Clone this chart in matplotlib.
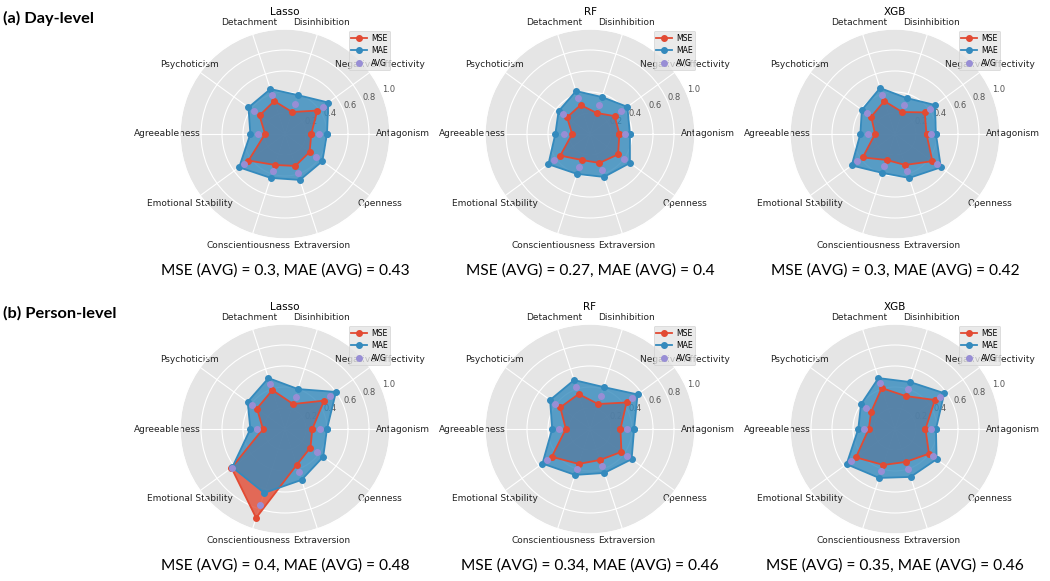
import matplotlib
matplotlib.use("Agg")
import matplotlib.pyplot as plt
import numpy as np

categories = ["Antagonism", "Negative Affectivity", "Disinhibition", "Detachment",
              "Psychoticism", "Agreeableness", "Emotional Stability",
              "Conscientiousness", "Extraversion", "Openness"]
models = ["Lasso", "RF", "XGB"]

# (a) day-level errors per trait
lasso_day_mse = [0.25, 0.38, 0.22, 0.33, 0.30, 0.19, 0.43, 0.31, 0.32, 0.29]
lasso_day_mae = [0.40, 0.51, 0.39, 0.45, 0.43, 0.33, 0.54, 0.44, 0.46, 0.44]
rf_day_mse = [0.28, 0.29, 0.21, 0.29, 0.27, 0.17, 0.35, 0.26, 0.29, 0.33]
rf_day_mae = [0.38, 0.44, 0.37, 0.43, 0.37, 0.33, 0.49, 0.40, 0.43, 0.47]
xgb_day_mse = [0.30, 0.35, 0.22, 0.33, 0.28, 0.19, 0.38, 0.26, 0.31, 0.44]
xgb_day_mae = [0.39, 0.47, 0.36, 0.46, 0.39, 0.33, 0.51, 0.39, 0.44, 0.54]

# (b) person-level errors per trait
lasso_person_mse = [0.26, 0.46, 0.25, 0.39, 0.33, 0.21, 0.63, 0.89, 0.36, 0.30]
lasso_person_mae = [0.40, 0.60, 0.40, 0.51, 0.44, 0.33, 0.62, 0.64, 0.51, 0.45]
rf_person_mse = [0.29, 0.43, 0.25, 0.35, 0.35, 0.23, 0.45, 0.35, 0.31, 0.37]
rf_person_mae = [0.42, 0.56, 0.42, 0.49, 0.47, 0.36, 0.56, 0.46, 0.44, 0.49]
xgb_person_mse = [0.29, 0.47, 0.33, 0.41, 0.28, 0.25, 0.46, 0.36, 0.33, 0.40]
xgb_person_mae = [0.39, 0.58, 0.47, 0.51, 0.40, 0.35, 0.57, 0.49, 0.48, 0.49]

day_mse_avg = [0.3, 0.27, 0.3]
day_mae_avg = [0.43, 0.4, 0.42]
person_mse_avg = [0.4, 0.34, 0.35]
person_mae_avg = [0.48, 0.46, 0.46]

plt.style.use("ggplot")

W, H = 1050, 581
R = 105
col_x = [285, 590, 895]
row_y = [134, 429]

fig = plt.figure(figsize=(W / 100, H / 100), dpi=100)

angles = np.linspace(0, 2 * np.pi, len(categories), endpoint=False)
closed = np.concatenate([angles, angles[:1]])


def radar(cx, cy, title, mse, mae):
    ax = fig.add_axes([(cx - R) / W, (H - cy - R) / H, 2 * R / W, 2 * R / H],
                      projection="polar")
    mse = np.asarray(mse)
    mae = np.asarray(mae)
    avg = (mse + mae) / 2
    ax.fill(closed, np.append(mse, mse[0]), color="#E24A33", alpha=0.8, lw=0)
    ax.fill(closed, np.append(mae, mae[0]), color="#348ABD", alpha=0.8, lw=0)
    ax.plot(closed, np.append(mse, mse[0]), "o-", color="#E24A33", lw=1.3, ms=4, label="MSE")
    ax.plot(closed, np.append(mae, mae[0]), "o-", color="#348ABD", lw=1.3, ms=4, label="MAE")
    ax.plot(angles, avg, "o", color="#988ED5", ms=4, lw=0, label="AVG")
    ax.set_thetagrids(np.degrees(angles), categories, fontsize=6.5, color="#222222")
    ax.tick_params(axis="x", pad=-1.5)
    ax.set_rgrids([0.2, 0.4, 0.6, 0.8, 1.0], fontsize=6, color="#555555")
    ax.set_ylim(0, 1)
    ax.set_title(title, fontsize=7.5, y=1.0, pad=10)
    ax.legend(loc="upper right", bbox_to_anchor=(1.02, 1.01), fontsize=5.6,
              handlelength=2, borderpad=0.35, labelspacing=0.45, handletextpad=0.5)
    return ax


level_data = [
    [(lasso_day_mse, lasso_day_mae), (rf_day_mse, rf_day_mae), (xgb_day_mse, xgb_day_mae)],
    [(lasso_person_mse, lasso_person_mae), (rf_person_mse, rf_person_mae),
     (xgb_person_mse, xgb_person_mae)],
]
level_avgs = [(day_mse_avg, day_mae_avg), (person_mse_avg, person_mae_avg)]
row_labels = ["(a) Day-level", "(b) Person-level"]

for r, cy in enumerate(row_y):
    fig.text(3 / W, 1 - (cy - 116) / H, row_labels[r], fontsize=11.8, fontweight="bold",
             family="Lato", ha="left", va="center")
    for c, cx in enumerate(col_x):
        mse, mae = level_data[r][c]
        radar(cx, cy, models[c], mse, mae)
        m_avg, a_avg = level_avgs[r]
        fig.text(cx / W, 1 - (cy + 137) / H,
                 f"MSE (AVG) = {m_avg[c]}, MAE (AVG) = {a_avg[c]}",
                 fontsize=11.2, family="Lato", ha="center", va="center")

fig.savefig("out.png", dpi=100)
